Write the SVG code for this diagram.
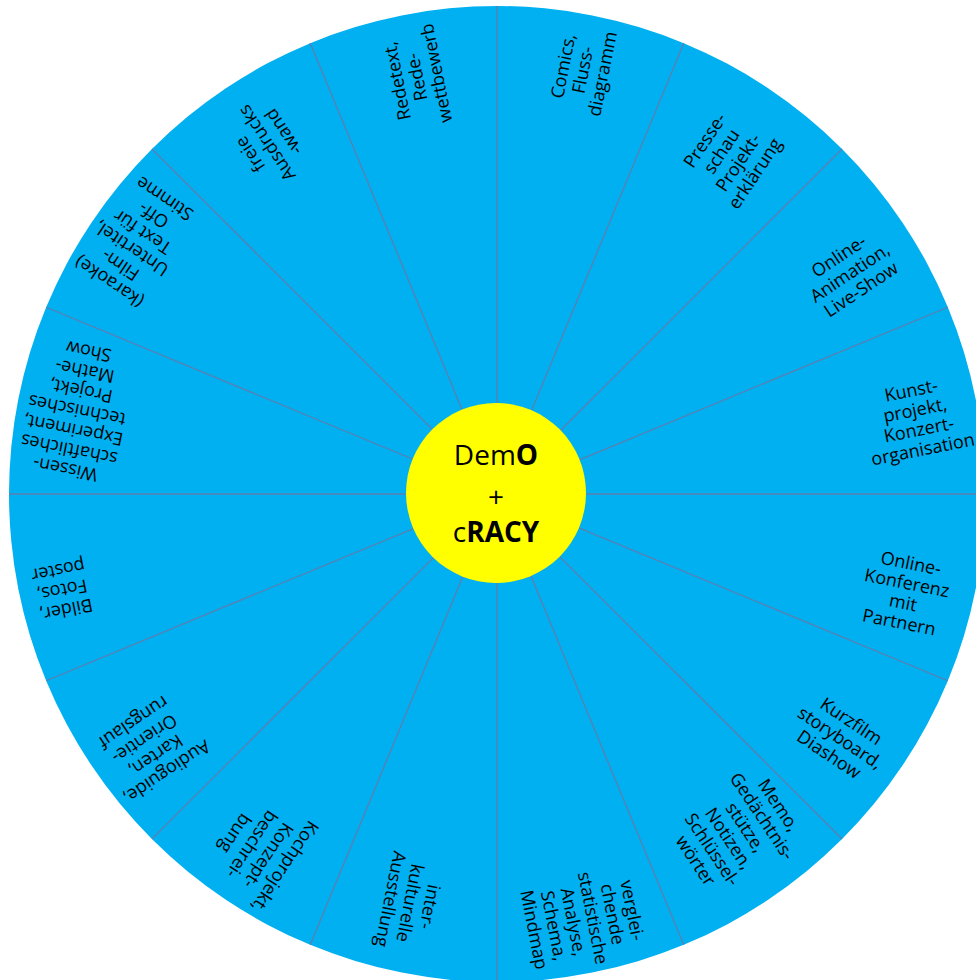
<svg xmlns="http://www.w3.org/2000/svg" width="976" height="980" viewBox="0 0 976 980">
<style>
.lbl{font-family:"Open Sans","Liberation Sans",sans-serif;font-size:18px;fill:#000;text-anchor:middle}
.ctr{font-family:"Open Sans","Liberation Sans",sans-serif;font-size:28px;fill:#000;text-anchor:middle}
.sep{stroke:#5B7FB2;stroke-width:1.3}
</style>
<rect width="976" height="980" fill="#ffffff"/>
<g id="wheel">
<circle cx="497" cy="494" r="488" fill="#00B0F0"/>
</g>
<g id="connectors">
<g transform="translate(497 494)">
<line class="sep" x1="0" y1="0" x2="488" y2="0"/>
<line class="sep" x1="0" y1="0" x2="488" y2="0" transform="rotate(22.5)"/>
<line class="sep" x1="0" y1="0" x2="488" y2="0" transform="rotate(45)"/>
<line class="sep" x1="0" y1="0" x2="488" y2="0" transform="rotate(67.5)"/>
<line class="sep" x1="0" y1="0" x2="488" y2="0" transform="rotate(90)"/>
<line class="sep" x1="0" y1="0" x2="488" y2="0" transform="rotate(112.5)"/>
<line class="sep" x1="0" y1="0" x2="488" y2="0" transform="rotate(135)"/>
<line class="sep" x1="0" y1="0" x2="488" y2="0" transform="rotate(157.5)"/>
<line class="sep" x1="0" y1="0" x2="488" y2="0" transform="rotate(180)"/>
<line class="sep" x1="0" y1="0" x2="488" y2="0" transform="rotate(202.5)"/>
<line class="sep" x1="0" y1="0" x2="488" y2="0" transform="rotate(225)"/>
<line class="sep" x1="0" y1="0" x2="488" y2="0" transform="rotate(247.5)"/>
<line class="sep" x1="0" y1="0" x2="488" y2="0" transform="rotate(270)"/>
<line class="sep" x1="0" y1="0" x2="488" y2="0" transform="rotate(292.5)"/>
<line class="sep" x1="0" y1="0" x2="488" y2="0" transform="rotate(315)"/>
<line class="sep" x1="0" y1="0" x2="488" y2="0" transform="rotate(337.5)"/>
</g>
</g>
<g id="n-kunst" transform="translate(917 420) rotate(-11.25)">
<text class="lbl"><tspan x="0" y="-24">Kunst-</tspan><tspan x="0" y="-4">projekt,</tspan><tspan x="0" y="16">Konzert-</tspan><tspan x="0" y="36">organisation</tspan></text>
</g>
<g id="n-konferenz" transform="translate(905 593) rotate(11.25)">
<text class="lbl"><tspan x="0" y="-24">Online-</tspan><tspan x="0" y="-4">Konferenz</tspan><tspan x="0" y="16">mit</tspan><tspan x="0" y="36">Partnern</tspan></text>
</g>
<g id="n-kurzfilm" transform="translate(840 738) rotate(33.75)">
<text class="lbl"><tspan x="0" y="-14">Kurzfilm</tspan><tspan x="0" y="6">storyboard,</tspan><tspan x="0" y="26">Diashow</tspan></text>
</g>
<g id="n-memo" transform="translate(737 833) rotate(56.25)">
<text class="lbl"><tspan x="0" y="-44">Memo,</tspan><tspan x="0" y="-24">Gedächtnis-</tspan><tspan x="0" y="-4">stütze,</tspan><tspan x="0" y="16">Notizen,</tspan><tspan x="0" y="36">Schlüssel-</tspan><tspan x="0" y="56">wörter</tspan></text>
</g>
<g id="n-vergleichende" transform="translate(583 920) rotate(78.75)">
<text class="lbl"><tspan x="0" y="-44">verglei-</tspan><tspan x="0" y="-24">chende</tspan><tspan x="0" y="-4">statistische</tspan><tspan x="0" y="16">Analyse,</tspan><tspan x="0" y="36">Schema,</tspan><tspan x="0" y="56">Mindmap</tspan></text>
</g>
<g id="n-interkulturelle" transform="translate(410 903) rotate(101.25)">
<text class="lbl"><tspan x="0" y="-14">inter-</tspan><tspan x="0" y="6">kulturelle</tspan><tspan x="0" y="26">Ausstellung</tspan></text>
</g>
<g id="n-kochprojekt" transform="translate(260 850) rotate(123.75)">
<text class="lbl"><tspan x="0" y="-24">Kochprojekt,</tspan><tspan x="0" y="-4">Konzept-</tspan><tspan x="0" y="16">beschrei-</tspan><tspan x="0" y="36">bung</tspan></text>
</g>
<g id="n-audioguide" transform="translate(150 747) rotate(146.25)">
<text class="lbl"><tspan x="0" y="-24">Audioguide,</tspan><tspan x="0" y="-4">Karten,</tspan><tspan x="0" y="16">Orientie-</tspan><tspan x="0" y="36">rungslauf</tspan></text>
</g>
<g id="n-bilder" transform="translate(62 590) rotate(168.75)">
<text class="lbl"><tspan x="0" y="-14">Bilder,</tspan><tspan x="0" y="6">Fotos,</tspan><tspan x="0" y="26">poster</tspan></text>
</g>
<g id="n-wissenschaftliches" transform="translate(77 410) rotate(191.25)">
<text class="lbl"><tspan x="0" y="-54">Wissen-</tspan><tspan x="0" y="-34">schaftliches</tspan><tspan x="0" y="-14">Experiment,</tspan><tspan x="0" y="6">technisches</tspan><tspan x="0" y="26">Projekt,</tspan><tspan x="0" y="46">Mathe-</tspan><tspan x="0" y="66">Show</tspan></text>
</g>
<g id="n-karaoke" transform="translate(137 240) rotate(213.75)">
<text class="lbl"><tspan x="0" y="-44">(karaoke)</tspan><tspan x="0" y="-24">Film-</tspan><tspan x="0" y="-4">Untertitel,</tspan><tspan x="0" y="16">Text für</tspan><tspan x="0" y="36">Off-</tspan><tspan x="0" y="56">Stimme</tspan></text>
</g>
<g id="n-freie" transform="translate(267 143) rotate(236.25)">
<text class="lbl"><tspan x="0" y="-14">freie</tspan><tspan x="0" y="6">Ausdrucks</tspan><tspan x="0" y="26">-wand</tspan></text>
</g>
<g id="n-redetext" transform="translate(417 77) rotate(258.75)">
<text class="lbl"><tspan x="0" y="-14">Redetext,</tspan><tspan x="0" y="6">Rede-</tspan><tspan x="0" y="26">wettbewerb</tspan></text>
</g>
<g id="n-comics" transform="translate(583 70) rotate(281.25)">
<text class="lbl"><tspan x="0" y="-14">Comics,</tspan><tspan x="0" y="6">Fluss-</tspan><tspan x="0" y="26">diagramm</tspan></text>
</g>
<g id="n-presseschau" transform="translate(730 157) rotate(303.75)">
<text class="lbl"><tspan x="0" y="-24">Presse-</tspan><tspan x="0" y="-4">schau</tspan><tspan x="0" y="16">Projekt-</tspan><tspan x="0" y="36">erklärung</tspan></text>
</g>
<g id="n-animation" transform="translate(850 273) rotate(326.25)">
<text class="lbl"><tspan x="0" y="-14">Online-</tspan><tspan x="0" y="6">Animation,</tspan><tspan x="0" y="26">Live-Show</tspan></text>
</g>
<g id="n-center">
<circle cx="496" cy="493" r="90" fill="#FFFF00"/>
<text class="ctr" x="496" y="465">Dem<tspan font-weight="bold">O</tspan></text>
<text class="ctr" x="496" y="507">+</text>
<text class="ctr" x="496" y="542">c<tspan font-weight="bold">RACY</tspan></text>
</g>
</svg>
